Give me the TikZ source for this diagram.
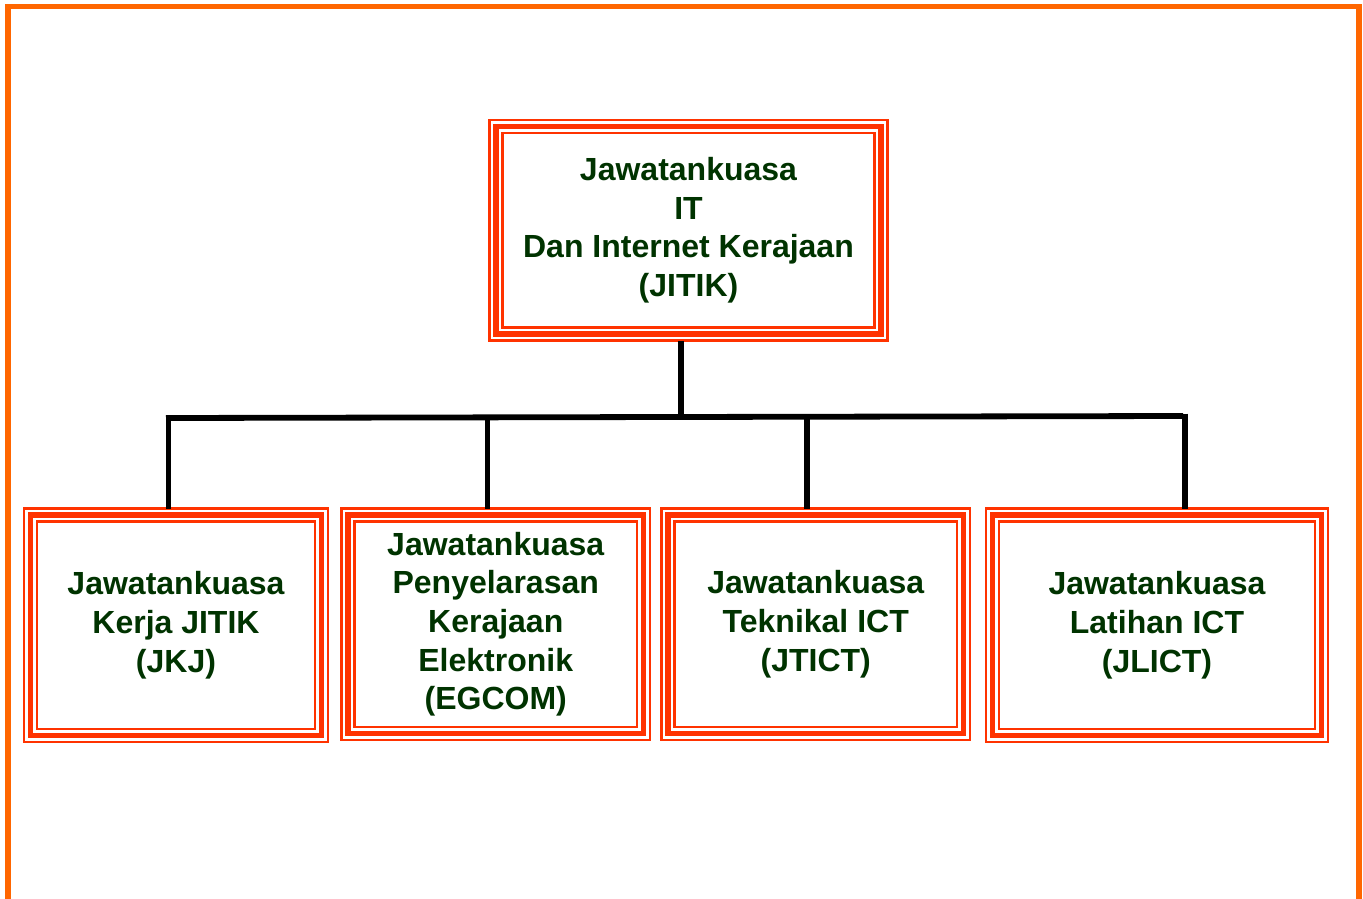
\documentclass[tikz,border=0pt]{standalone}
\usepackage{fontspec}
\setmainfont{Liberation Sans}
\definecolor{frameor}{HTML}{FF6600}
\definecolor{boxred}{HTML}{FF3300}
\definecolor{txtgreen}{HTML}{003300}
\begin{document}
\begin{tikzpicture}[x=1pt,y=-1pt,
  box/.style={draw=boxred, line width=2.2pt, outer sep=0pt, inner sep=0pt,
    align=center, font=\fontsize{32}{38.6}\selectfont\bfseries, text=txtgreen},
  link/.style={line width=5.8pt, draw=black}]
\useasboundingbox (0,0) rectangle (1363,899);
\fill[white] (0,0) rectangle (1363,899);
\draw[frameor, line width=5.5pt] (8,899) -- (8,6.5) -- (1359,6.5) -- (1359,899);

\node[box, minimum width=398pt, minimum height=220.5pt] (top) at (688.5,230.25)
  {Jawatankuasa\\IT\\Dan Internet Kerajaan\\(JITIK)};
\node[box, minimum width=304pt, minimum height=233.5pt] (b1) at (176,625.25)
  {Jawatankuasa\\Kerja JITIK\\(JKJ)};
\node[box, minimum width=308.5pt, minimum height=231.5pt] (b2) at (495.75,624.25)
  {Jawatankuasa\\Penyelarasan\\Kerajaan\\Elektronik\\(EGCOM)};
\node[box, minimum width=308.5pt, minimum height=231.5pt] (b3) at (815.75,624.25)
  {Jawatankuasa\\Teknikal ICT\\(JTICT)};
\node[box, minimum width=342pt, minimum height=233.5pt] (b4) at (1157,625.25)
  {Jawatankuasa\\Latihan ICT\\(JLICT)};

\foreach \n in {top,b1,b2,b3,b4} {
  \draw[boxred, line width=5.5pt] ([shift={(6.5pt,-6.5pt)}]\n.north west) rectangle ([shift={(-6.5pt,6.5pt)}]\n.south east);
  \draw[boxred, line width=2.2pt] ([shift={(13pt,-13pt)}]\n.north west) rectangle ([shift={(-13pt,13pt)}]\n.south east);
}

\coordinate (j0) at (681,417);
\coordinate (hl) at (166,418);
\coordinate (hr) at (1183,416);
\coordinate (j1) at (168.5,415.5);
\coordinate (j2) at (487.5,417);
\coordinate (j3) at (807,417);
\coordinate (j4) at (1185,413.5);

\draw[link] (j0) -- (j0 |- top.south);
\draw[link] (hl) -- (hr);
\draw[link] (j1) -- (j1 |- b1.north);
\draw[link] (j2) -- (j2 |- b2.north);
\draw[link] (j3) -- (j3 |- b3.north);
\draw[link] (j4) -- (j4 |- b4.north);
\end{tikzpicture}
\end{document}
